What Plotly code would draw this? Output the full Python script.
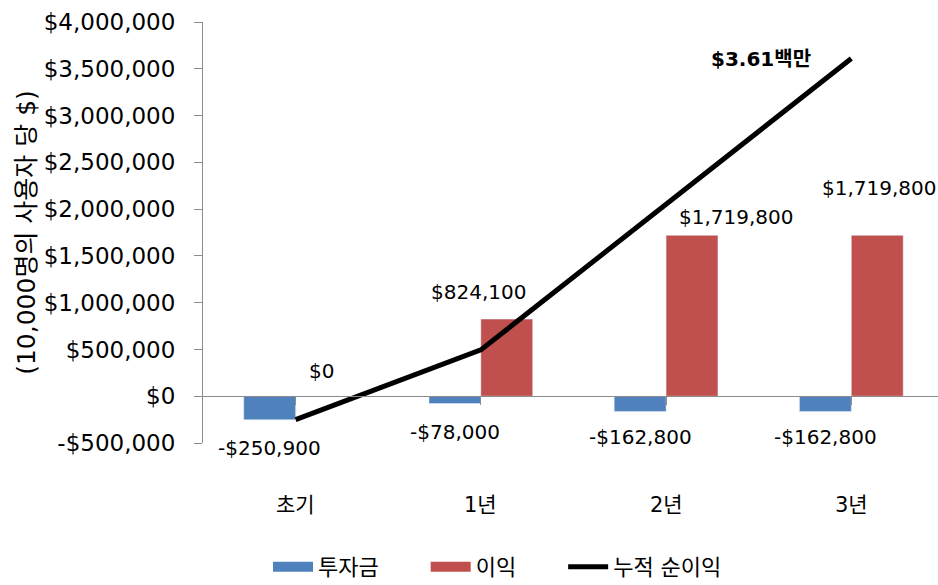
import plotly.graph_objects as go

categories = ["초기", "1년", "2년", "3년"]
investment = [-250900, -78000, -162800, -162800]
profit = [0, 824100, 1719800, 1719800]
cumulative = [-250900, 495200, 2052200, 3609200]
y_ticks = [-500000, 0, 500000, 1000000, 1500000, 2000000, 2500000, 3000000, 3500000, 4000000]
series_names = ["투자금", "이익", "누적 순이익"]

def money(v):
    s = "${:,.0f}".format(abs(v))
    return "-" + s if v < 0 else s

FONT = "DejaVu Sans, Noto Sans CJK KR, sans-serif"
BLUE = "#4F81BD"
RED = "#C0504D"
GRAY = "#8C8C8C"
PAD = "\u00a0" * 6

idx = list(range(len(categories)))
fig = go.Figure()
fig.add_trace(go.Bar(x=idx, y=investment, name=series_names[0], marker_color=BLUE, showlegend=False))
fig.add_trace(go.Bar(x=idx, y=profit, name=series_names[1], marker_color=RED, showlegend=False))
fig.add_trace(go.Scatter(x=idx, y=cumulative, name=series_names[2], mode="lines",
                         line=dict(color="black", width=5), showlegend=False))
# legend entries (wide swatches as in the source)
fig.add_trace(go.Scatter(x=[None], y=[None], name=series_names[0] + PAD, mode="lines",
                         line=dict(color=BLUE, width=14)))
fig.add_trace(go.Scatter(x=[None], y=[None], name=series_names[1] + PAD, mode="lines",
                         line=dict(color=RED, width=14)))
fig.add_trace(go.Scatter(x=[None], y=[None], name=series_names[2], mode="lines",
                         line=dict(color="black", width=5)))

ymin, ymax = y_ticks[0], y_ticks[-1]
zero_frac = (0 - ymin) / (ymax - ymin)
off = 0.14  # half bar offset within group

annotations = []
inv_shift = [-28, -28, -26, -26]
for i, v in enumerate(investment):
    annotations.append(dict(x=i - off, y=v, xref="x", yref="y", text=money(v),
                            showarrow=False, yshift=inv_shift[i], xshift=0,
                            font=dict(size=20, family=FONT, color="black")))
prof_xs = [0, -28, 44, 2]
prof_ys = [25, 27, 18, 47]
for i, v in enumerate(profit):
    annotations.append(dict(x=i + off, y=v, xref="x", yref="y", text=money(v),
                            showarrow=False, yshift=prof_ys[i], xshift=prof_xs[i],
                            font=dict(size=20, family=FONT, color="black")))
annotations.append(dict(x=idx[-1], y=cumulative[-1], xref="x", yref="y",
                        text="<b>${:.2f}백만</b>".format(cumulative[-1] / 1e6),
                        showarrow=False, xshift=-90, yshift=0,
                        font=dict(size=20, family=FONT, color="black")))
for i, c in enumerate(categories):
    annotations.append(dict(x=i, y=0, xref="x", yref="paper", text=c, showarrow=False,
                            yshift=-62, yanchor="middle",
                            font=dict(size=21, family=FONT, color="black")))

fig.update_layout(
    width=938, height=585,
    margin=dict(l=203, r=0, t=22, b=142, autoexpand=False),
    paper_bgcolor="white", plot_bgcolor="white",
    barmode="group", bargap=0.44, bargroupgap=0,
    font=dict(family=FONT, size=20, color="black"),
    showlegend=True,
    legend=dict(orientation="h", xref="container", x=268 / 938, xanchor="left",
                yref="container", y=18 / 585, yanchor="middle",
                font=dict(size=22, family=FONT),
                traceorder="normal", itemwidth=40),
    annotations=annotations,
    xaxis=dict(range=[-0.5, 3.468], tickvals=idx, showticklabels=False,
               anchor="free", position=zero_frac, showline=True, linecolor=GRAY, linewidth=1,
               ticks="outside", tickson="boundaries", ticklen=8, tickcolor=GRAY,
               showgrid=False, zeroline=False, fixedrange=True),
    yaxis=dict(range=[ymin, ymax], tickvals=y_ticks, ticktext=[money(v) for v in y_ticks],
               showline=True, linecolor=GRAY, linewidth=1, ticks="outside", ticklen=8,
               tickcolor=GRAY, showgrid=False, zeroline=False,
               tickfont=dict(size=23, family=FONT), ticklabelstandoff=14,
               title=dict(text="(10,000명의 사용자 당 $)", font=dict(size=25, family=FONT),
                          standoff=0)),
)

fig.write_html("out.html")
